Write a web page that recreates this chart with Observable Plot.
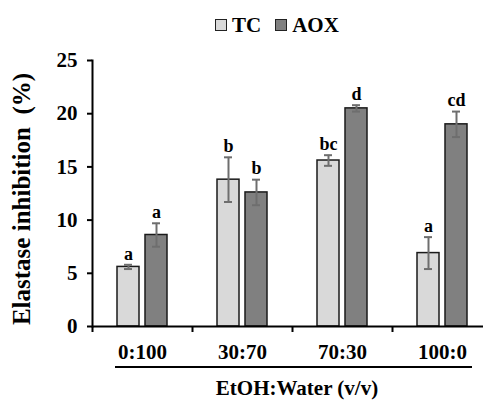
<!DOCTYPE html>
<html><head><meta charset="utf-8">
<script src="https://cdn.jsdelivr.net/npm/d3@7"></script>
<script src="https://cdn.jsdelivr.net/npm/@observablehq/plot@0.6"></script>
<style>
body{margin:0;background:#fff;font-family:"Liberation Serif",serif;font-weight:bold;color:#000;}
#wrap{width:483px;height:400px;position:relative;overflow:hidden;}
#legend{position:absolute;top:13px;left:215px;display:flex;align-items:center;font-size:21px;line-height:24px;}
#legend .item{display:flex;align-items:center;margin-right:14px;}
#legend .sw{width:10px;height:10px;border:1.5px solid #222;margin-right:5px;}
#chart{position:absolute;top:45px;left:0;}
#ylabel{position:absolute;left:22px;top:199px;transform:translate(-50%,-50%) rotate(-90deg);white-space:pre;font-size:25px;line-height:26px;}
#rule{position:absolute;top:366px;left:115px;width:357px;border-top:2px solid #000;}
#xlabel{position:absolute;top:377px;left:147px;width:300px;text-align:center;font-size:21px;line-height:22px;}
</style></head><body>
<div id="wrap">
  <div id="legend"></div>
  <div id="chart"></div>
  <div id="ylabel"></div>
  <div id="rule"></div>
  <div id="xlabel"></div>
</div>
<script>
const categories = ["0:100", "30:70", "70:30", "100:0"];
const series = ["TC", "AOX"];
const tcValues = [5.6, 13.8, 15.6, 6.9];
const tcErrors = [0.2, 2.1, 0.5, 1.5];
const tcLetters = ["a", "b", "bc", "a"];
const aoxValues = [8.6, 12.6, 20.5, 19.0];
const aoxErrors = [1.1, 1.2, 0.3, 1.2];
const aoxLetters = ["a", "b", "d", "cd"];
const seriesColors = ["#d9d9d9", "#808080"];
const yTicks = [0, 5, 10, 15, 20, 25];
const yLabel = "Elastase inhibition  (%)";
const xLabel = "EtOH:Water (v/v)";

const rows = [];
categories.forEach((c, i) => {
  rows.push({cat: c, series: "TC", value: tcValues[i], err: tcErrors[i], letter: tcLetters[i]});
  rows.push({cat: c, series: "AOX", value: aoxValues[i], err: aoxErrors[i], letter: aoxLetters[i]});
});

const leg = document.getElementById("legend");
series.forEach((s, i) => {
  const it = document.createElement("div");
  it.className = "item";
  const sw = document.createElement("div");
  sw.className = "sw";
  sw.style.background = seriesColors[i];
  const t = document.createElement("span");
  t.textContent = s;
  it.appendChild(sw); it.appendChild(t);
  leg.appendChild(it);
});
document.getElementById("xlabel").textContent = xLabel;
document.getElementById("ylabel").textContent = yLabel;

const chart = Plot.plot({
  width: 483,
  height: 317,
  marginTop: 15,
  marginBottom: 36,
  marginLeft: 92,
  marginRight: -9,
  style: {fontFamily: "Liberation Serif", fontWeight: "bold", fontSize: "20px", color: "#000", overflow: "visible", background: "transparent"},
  fx: {domain: categories, padding: 0, label: null, axis: null},
  x: {domain: series, paddingInner: 0.2, paddingOuter: 0.85, axis: null},
  y: {domain: [0, 25], axis: null},
  color: {domain: series, range: seriesColors},
  marks: [
    Plot.frame({anchor: "left", facet: "super", stroke: "#000", strokeWidth: 2}),
    Plot.axisY({ticks: yTicks, tickSize: 5, tickPadding: 10, strokeWidth: 2, fontSize: 21, label: null}),
    Plot.barY(rows, {fx: "cat", x: "series", y: "value", fill: "series", stroke: "#1a1a1a", strokeWidth: 1.5}),
    Plot.ruleX(rows, {fx: "cat", x: "series", y1: d => d.value - d.err, y2: d => d.value + d.err, stroke: "#6e6e6e", strokeWidth: 2}),
    Plot.tickY(rows, {fx: "cat", x: "series", y: d => d.value - d.err, stroke: "#6e6e6e", strokeWidth: 2, insetLeft: 7, insetRight: 7}),
    Plot.tickY(rows, {fx: "cat", x: "series", y: d => d.value + d.err, stroke: "#6e6e6e", strokeWidth: 2, insetLeft: 7, insetRight: 7}),
    Plot.text(rows, {fx: "cat", x: "series", y: d => d.value + d.err, text: "letter", dy: -11, fontSize: 18, fill: "#000"}),
    Plot.ruleY([0], {stroke: "#000", strokeWidth: 2}),
    Plot.axisFx({anchor: "bottom", tickSize: 0, tickPadding: 18, fontSize: 21, label: null}),
    Plot.axisFx({anchor: "bottom", tickSize: 6, strokeWidth: 2, tickFormat: () => "", dx: -50, label: null})
  ]
});
document.getElementById("chart").appendChild(chart);
</script>
</body></html>
